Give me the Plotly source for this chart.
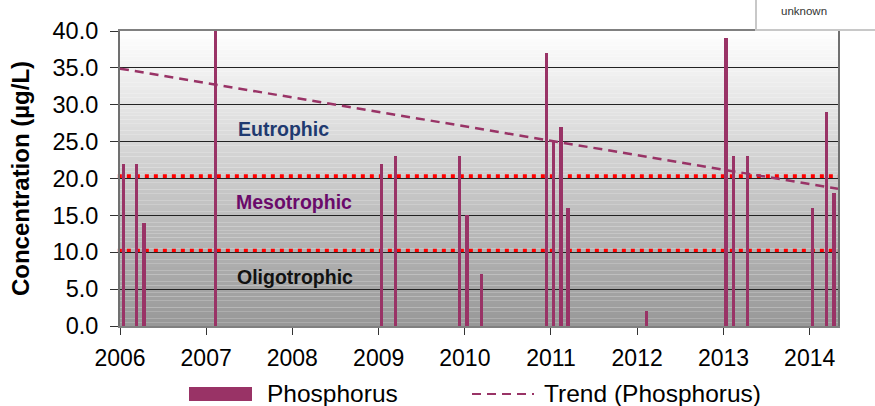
import plotly.graph_objects as go

# ---- data ----
sample_dates = [
    "2006-01-15", "2006-03-11", "2006-04-13",
    "2007-02-11",
    "2009-01-14", "2009-03-14",
    "2009-12-10", "2010-01-10", "2010-03-14",
    "2010-12-14", "2011-01-13", "2011-02-12", "2011-03-14",
    "2012-02-11",
    "2013-01-11", "2013-02-12", "2013-04-12",
    "2014-01-12", "2014-03-14", "2014-04-14",
]
phosphorus = [
    22, 22, 14,
    40,
    22, 23,
    23, 15, 7,
    37, 25, 27, 16,
    2,
    39, 23, 23,
    16, 29, 18,
]
trend_dates = ["2006-01-01", "2014-05-01"]
trend_values = [34.9, 18.6]
thresholds = [20.3, 10.2]
zone_labels = ["Eutrophic", "Mesotrophic", "Oligotrophic"]
series_names = ["Phosphorus", "Trend (Phosphorus)"]
y_ticks = [0, 5, 10, 15, 20, 25, 30, 35, 40]

BAR = "#993366"
FONT = "Liberation Sans, Arial, sans-serif"

W, H = 875, 406
L, R, T, B = 120, 838, 31, 326


def px(x):  # screen x -> paper x
    return (x - L) / (R - L)


def py(y):  # screen y -> paper y
    return (B - y) / (B - T)


fig = go.Figure()
fig.add_trace(go.Bar(
    x=sample_dates, y=phosphorus, name=series_names[0],
    marker=dict(color=BAR, line=dict(width=0)),
    width=[1.2e9] * len(phosphorus), showlegend=False,
))
fig.add_trace(go.Scatter(
    x=trend_dates, y=trend_values, mode="lines", name=series_names[1],
    line=dict(color=BAR, width=2.5, dash="9px,6px"), showlegend=False,
))

shapes = []
steps = 80
for i in range(steps):
    y0 = 40 * i / steps
    y1 = 40 * (i + 1) / steps
    frac = (i + 0.5) / steps
    c = int(152 + 103 * frac)
    shapes.append(dict(type="rect", xref="paper", yref="y", x0=0, x1=1, y0=y0, y1=y1,
                       fillcolor=f"rgb({c},{c},{c})", line=dict(width=0), layer="below"))
for t in thresholds:
    shapes.append(dict(type="line", xref="paper", yref="y", x0=-0.003, x1=1.002, y0=t, y1=t,
                       line=dict(color="#ff0000", width=4, dash="4px,5px"), layer="between"))
# partial "unknown" box at top right
shapes.append(dict(type="rect", xref="paper", yref="paper", x0=px(756), x1=px(890), y0=py(30), y1=py(-10),
                   fillcolor="white", line=dict(color="#c8c8c8", width=2)))
# legend symbols
shapes.append(dict(type="rect", xref="paper", yref="paper", x0=px(189), x1=px(252), y0=py(401), y1=py(387),
                   fillcolor=BAR, line=dict(width=0)))
shapes.append(dict(type="line", xref="paper", yref="paper", x0=px(472), x1=px(534), y0=py(394), y1=py(394),
                   line=dict(color=BAR, width=2, dash="9px,6px")))
fig.update_layout(shapes=shapes)

ann = [
    dict(text="<b>%s</b>" % zone_labels[0], x=px(283.5), y=py(128.5), xanchor="center",
         font=dict(color="#1f3a70", size=19.5)),
    dict(text="<b>%s</b>" % zone_labels[1], x=px(293.5), y=py(202), xanchor="center",
         font=dict(color="#6a0a6a", size=19.5)),
    dict(text="<b>%s</b>" % zone_labels[2], x=px(295.3), y=py(277), xanchor="center",
         font=dict(color="#111111", size=19.5)),
    dict(text="unknown", x=px(804), y=py(11), xanchor="center", font=dict(color="#333333", size=11.5)),
    dict(text=series_names[0], x=px(265), y=py(393), xanchor="left", font=dict(color="#000000", size=24.5)),
    dict(text=series_names[1], x=px(542), y=py(393), xanchor="left", font=dict(color="#000000", size=24.5)),
]
for a in ann:
    a.update(xref="paper", yref="paper", showarrow=False, yanchor="middle")
fig.update_layout(annotations=ann)

fig.update_layout(
    width=W, height=H,
    margin=dict(l=L, r=W - R, t=T, b=H - B, autoexpand=False),
    paper_bgcolor="white", plot_bgcolor="rgba(0,0,0,0)",
    font=dict(family=FONT, color="#000000"),
    bargap=0,
    showlegend=False,
)
fig.update_xaxes(
    type="date", range=["2006-01-01", "2014-05-01"],
    dtick="M12", tick0="2006-01-01", tickformat="%Y",
    showgrid=False, zeroline=False, automargin=False,
    ticks="outside", ticklen=7, tickcolor="#333333", tickwidth=1,
    tickfont=dict(size=23), ticklabelstandoff=3,
    showline=True, linecolor="#808080", linewidth=2, mirror=True,
)
fig.update_yaxes(
    range=[0, 40], tickvals=y_ticks, tickformat=".1f",
    showgrid=True, gridcolor="#222222", gridwidth=1.2, zeroline=False, automargin=False,
    ticks="outside", ticklen=8, tickcolor="#333333", tickwidth=1,
    tickfont=dict(size=23.5), ticklabelstandoff=7,
    showline=True, linecolor="#707070", linewidth=2, mirror=True,
    title=dict(text="<b>Concentration (µg/L)</b>", font=dict(size=24), standoff=16),
)

fig.write_html("out.html", config={"displayModeBar": False},
               post_script="document.body.style.margin='0';")
